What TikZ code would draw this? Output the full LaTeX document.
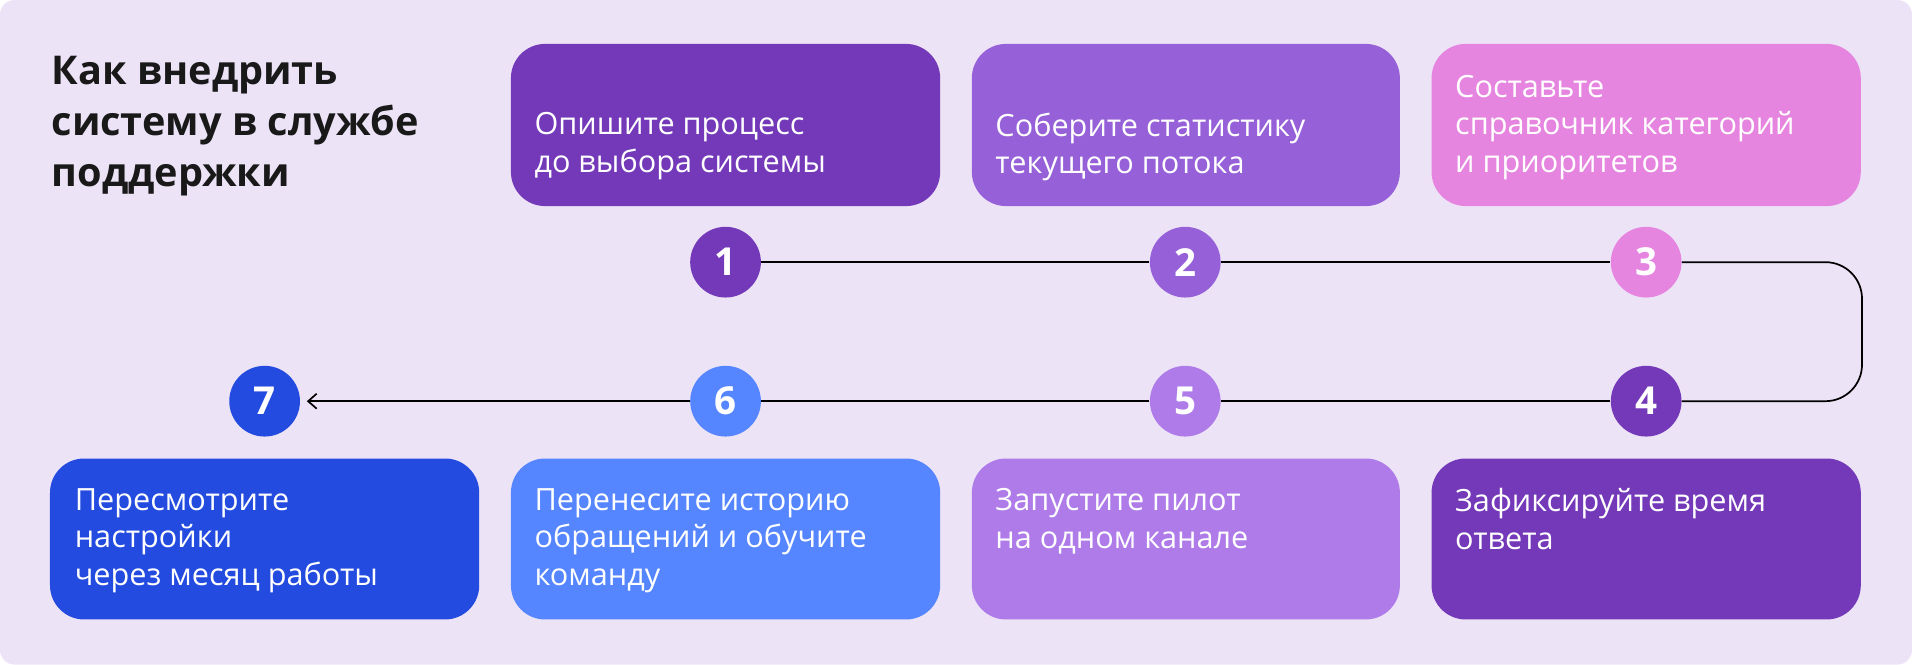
\documentclass[tikz,border=0pt]{standalone}
\usepackage{fontspec}
\setmainfont{Open Sans}
\usetikzlibrary{arrows.meta}
\definecolor{bg}{HTML}{EDE3F7}
\definecolor{cA}{HTML}{7439B8}
\definecolor{cB}{HTML}{9660D8}
\definecolor{cC}{HTML}{E685E0}
\definecolor{cE}{HTML}{AE7BE8}
\definecolor{cF}{HTML}{5586FF}
\definecolor{cG}{HTML}{234BE0}
\begin{document}
\begin{tikzpicture}[x={(0.02cm,0)},y={(0,-0.02cm)},
  box/.style={rounded corners=0.56cm},
  txt/.style={anchor=north west,inner sep=0,align=left,text=white,font=\fontsize{14.3}{17.6}\selectfont},
  num/.style={circle,minimum size=1.16cm,inner sep=0,text=white,font=\bfseries\fontsize{18}{20}\selectfont},
  link/.style={line width=0.8pt,black}]
\fill[bg,rounded corners=0.24cm] (0,0) rectangle (1568,545);
\useasboundingbox (0,0) rectangle (1568,545);
\node[anchor=north west,inner sep=0,align=left,text=black!90,font=\bfseries\fontsize{18.5}{23.8}\selectfont] (title) at (42,46) {Как внедрить\\систему в службе\\поддержки};
% top row boxes
\fill[cA,box] (419,36) rectangle (771,169);
\fill[cB,box] (797,36) rectangle (1148,169);
\fill[cC,box] (1174,36) rectangle (1526,169);
\node[txt] (t1) at (438,92) {Опишите процесс\\до выбора системы};
\node[txt] (t2) at (816,92) {Соберите статистику\\текущего потока};
\node[txt] (t3) at (1193,61) {Составьте\\справочник категорий\\и приоритетов};
% bottom row boxes
\fill[cG,box] (41,376) rectangle (393,508);
\fill[cF,box] (419,376) rectangle (771,508);
\fill[cE,box] (797,376) rectangle (1148,508);
\fill[cA,box] (1174,376) rectangle (1526,508);
\node[txt] (t7) at (61,400) {Пересмотрите\\настройки\\через месяц работы};
\node[txt] (t6) at (438,400) {Перенесите историю\\обращений и обучите\\команду};
\node[txt] (t5) at (816,400) {Запустите пилот\\на одном канале};
\node[txt] (t4) at (1193,400) {Зафиксируйте время\\ответа};
% circles
\node[num,fill=cA] (n1) at (595,215) {1};
\node[num,fill=cB] (n2) at (972,215) {2};
\node[num,fill=cC] (n3) at (1350,215) {3};
\node[num,fill=cA] (n4) at (1350,329) {4};
\node[num,fill=cE] (n5) at (972,329) {5};
\node[num,fill=cF] (n6) at (595,329) {6};
\node[num,fill=cG] (n7) at (217,329) {7};
\coordinate (r1) at (1527,215);
\coordinate (r2) at (1527,329);
\draw[link] (n1) -- (n2);
\draw[link] (n2) -- (n3);
\draw[link,rounded corners=0.6cm] (n3) -- (r1) -- (r2) -- (n4);
\draw[link] (n4) -- (n5);
\draw[link] (n5) -- (n6);
\draw[link,-{Straight Barb[length=4pt,width=7pt]}] (n6) -- ([xshift=3pt]n7.east);
\end{tikzpicture}
\end{document}
